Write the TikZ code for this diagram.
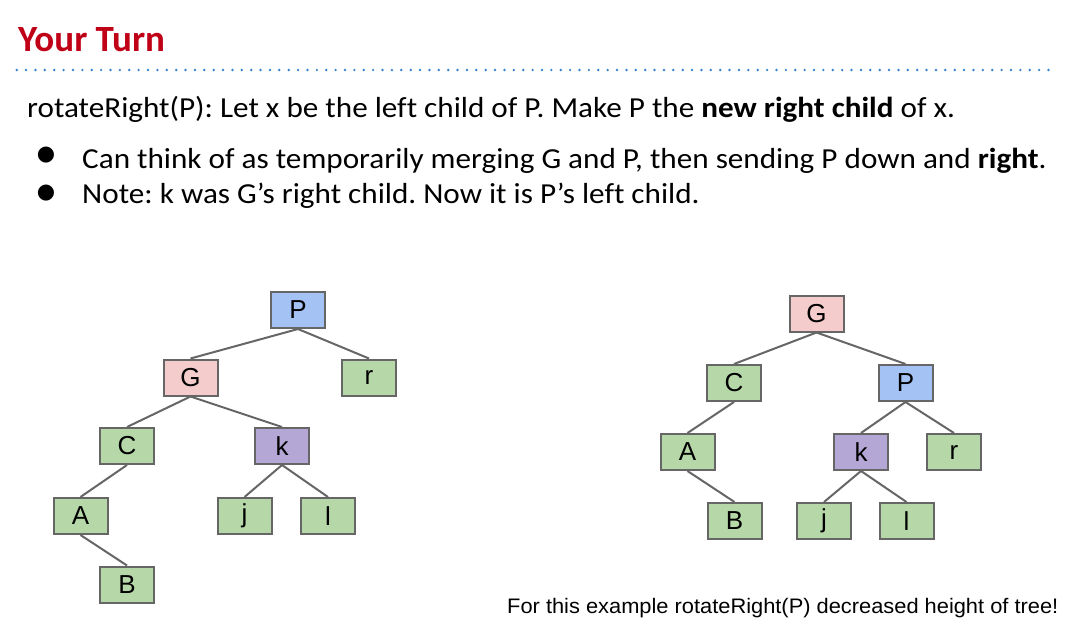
\documentclass[tikz,border=0pt]{standalone}
\usepackage{fontspec}
\setmainfont{Carlito}
\newfontfamily\bodyf{Carlito}[FakeStretch=1.075, Ligatures=NoCommon]
\newfontfamily\arialf{Liberation Sans}
\newfontfamily\notef{Liberation Sans}[FakeStretch=1.04]
\newfontfamily\dejavu{DejaVu Sans}
\definecolor{titlered}{RGB}{192,0,22}
\definecolor{dotblue}{RGB}{52,130,205}
\definecolor{edgegray}{RGB}{102,102,102}
\definecolor{pblue}{RGB}{164,194,244}
\definecolor{gpink}{RGB}{244,204,204}
\definecolor{lgreen}{RGB}{182,215,168}
\definecolor{kpurple}{RGB}{180,167,214}
\tikzset{
  tnode/.style={draw=edgegray, line width=2pt, minimum width=54pt, minimum height=36pt,
    inner sep=0pt, font=\arialf\fontsize{26}{26}\selectfont},
  gnode/.style={tnode, fill=lgreen},
  pnode/.style={tnode, fill=pblue},
  rnode/.style={tnode, fill=gpink},
  knode/.style={tnode, fill=kpurple},
  edge/.style={draw=edgegray, line width=2pt},
  body/.style={anchor=base west, inner sep=0pt, font=\bodyf\frenchspacing\fontsize{29}{29}\selectfont},
  bul/.style={anchor=center, inner sep=0pt, font=\dejavu\fontsize{21}{21}\selectfont}
}
\begin{document}
\begin{tikzpicture}[x=1pt,y=-1pt]
\useasboundingbox (0,0) rectangle (1087,630);
% header
\node[anchor=base west, inner sep=0pt, text=titlered, font=\bfseries\fontsize{37}{37}\selectfont] (title) at (18,51.7) {Your Turn};
\coordinate (dl) at (16.7,70);
\coordinate (dr) at (1049.5,70);
\draw[dotblue, line width=2.7pt, line cap=round, dash pattern=on 0pt off 9.38pt] (dl) -- (dr);
% body text
\node[body] (l1) at (27,117.5) {rotateRight(P): Let x be the left child of P. Make P the \textbf{new right child} of x.};
\node[bul] (b1) at (46,155.3) {●};
\node[body] (l2) at (82,168.5) {Can think of as temporarily merging G and P, then sending P down and \textbf{right}.};
\node[bul] (b2) at (46,192.8) {●};
\node[body] (l3) at (82,203.5) {Note: k was G’s right child. Now it is P’s left child.};
% left tree
\node[pnode] (LP) at (298,310) {P};
\node[rnode] (LG) at (190.5,377.5) {G};
\node[gnode] (Lr) at (369,377.5) {r};
\node[gnode] (LC) at (127,446) {C};
\node[knode] (Lk) at (282,446) {k};
\node[gnode] (LA) at (80.5,516) {A};
\node[gnode] (Lj) at (244.5,516) {j};
\node[gnode] (Ll) at (328,516) {l};
\node[gnode] (LB) at (127,584.5) {B};
\draw[edge] (LP.south) -- (LG.north);
\draw[edge] (LP.south) -- (Lr.north);
\draw[edge] (LG.south) -- (LC.north);
\draw[edge] (LG.south) -- (Lk.north);
\draw[edge] (LC.south) -- (LA.north);
\draw[edge] (LA.south) -- (LB.north);
\draw[edge] (Lk.south) -- (Lj.north);
\draw[edge] (Lk.south) -- (Ll.north);
% right tree
\node[rnode] (RG) at (816.5,313.5) {G};
\node[gnode] (RC) at (734,383) {C};
\node[pnode] (RP) at (905.5,383) {P};
\node[gnode] (RA) at (687.5,452) {A};
\node[knode] (Rk) at (861,452) {k};
\node[gnode] (Rr) at (954,452) {r};
\node[gnode] (RB) at (734.5,521) {B};
\node[gnode] (Rj) at (824,521) {j};
\node[gnode] (Rl) at (906.5,521) {l};
\draw[edge] (RG.south) -- (RC.north);
\draw[edge] (RG.south) -- (RP.north);
\draw[edge] (RC.south) -- (RA.north);
\draw[edge] (RA.south) -- (RB.north);
\draw[edge] (RP.south) -- (Rk.north);
\draw[edge] (RP.south) -- (Rr.north);
\draw[edge] (Rk.south) -- (Rj.north);
\draw[edge] (Rk.south) -- (Rl.north);
% note
\node[anchor=base west, inner sep=0pt, font=\notef\fontsize{21}{21}\selectfont] (note) at (507,613.3) {For this example rotateRight(P) decreased height of tree!};
\end{tikzpicture}
\end{document}
